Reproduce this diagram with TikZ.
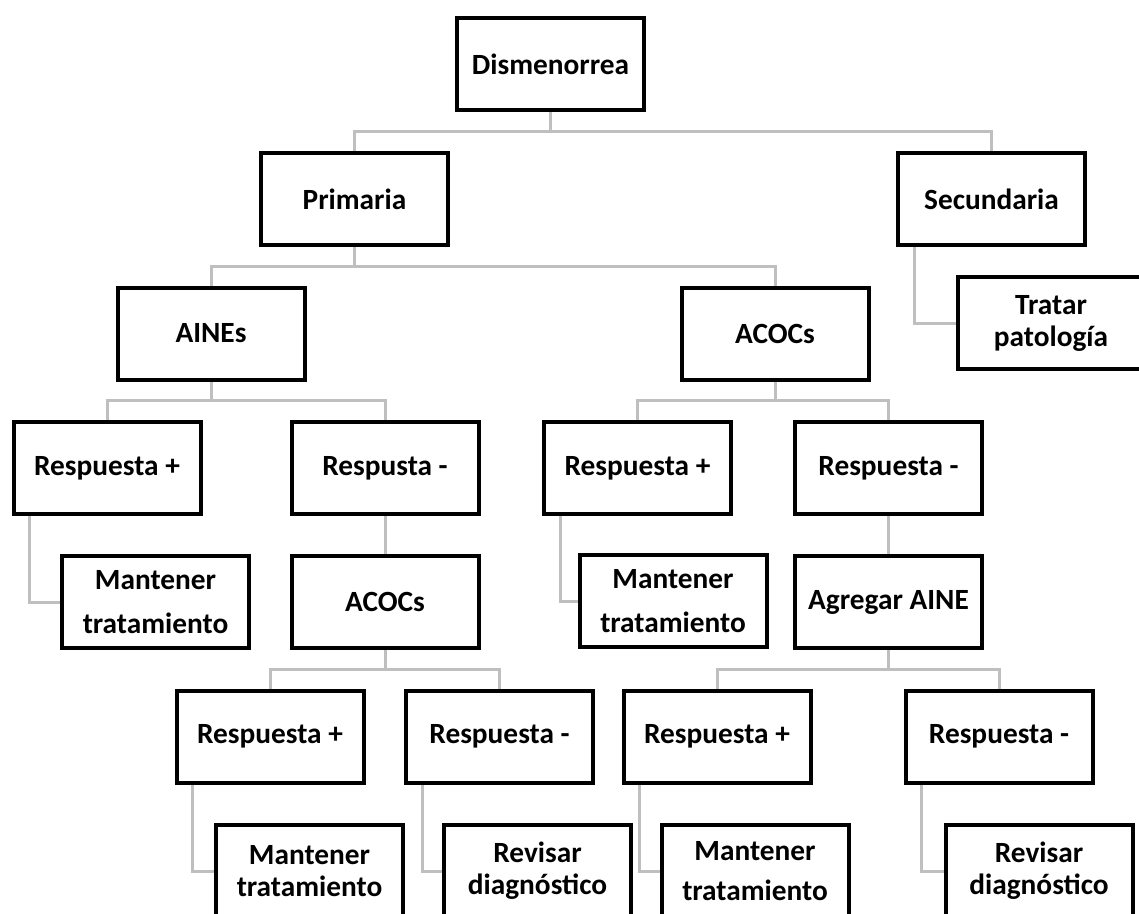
\documentclass[tikz,border=0pt]{standalone}
\usepackage{fontspec}
\setmainfont{Carlito}
\usetikzlibrary{backgrounds}
\definecolor{connGray}{RGB}{191,191,191}
\begin{document}
\begin{tikzpicture}[x=0.75pt,y=-0.75pt,
  box/.style={draw=black,line width=3pt,fill=white,minimum width=140.25pt,minimum height=69pt,
    inner sep=2pt,align=center,font=\bfseries\fontsize{22}{25}\selectfont},
  wide/.style={font=\bfseries\fontsize{22}{33}\selectfont},
  mid/.style={font=\bfseries\fontsize{22}{30}\selectfont},
  tight/.style={font=\bfseries\fontsize{22}{24}\selectfont},
  conn/.style={draw=connGray,line width=2.25pt,line join=miter}]
\useasboundingbox (0,0) rectangle (1139,914);

\node[box] (dis) at (550.5,64) {Dismenorrea};
\node[box] (prim) at (354.5,199) {Primaria};
\node[box] (sec) at (991.5,199) {Secundaria};
\node[box,tight] (trat) at (1051,323) {Tratar\\patología};
\node[box] (aines) at (211,333.5) {AINEs};
\node[box] (acocs) at (775,333.5) {ACOCs};
\node[box] (rp1) at (107,468) {Respuesta +};
\node[box] (rn1) at (385,468) {Respusta -};
\node[box,wide] (mt1) at (155.5,602) {Mantener\\tratamiento};
\node[box] (acocs2) at (385,602) {ACOCs};
\node[box] (rp2) at (637.5,468) {Respuesta +};
\node[box] (rn2) at (888.5,468) {Respuesta -};
\node[box,wide] (mt2) at (673,601) {Mantener\\tratamiento};
\node[box] (agr) at (888.5,602) {Agregar AINE};
\node[box] (rp3) at (270,736.5) {Respuesta +};
\node[box] (rn3) at (499.5,736.5) {Respuesta -};
\node[box] (rp4) at (717,736.5) {Respuesta +};
\node[box] (rn4) at (999,736.5) {Respuesta -};
\node[box,tight] (mt3) at (309.5,871) {Mantener\\tratamiento};
\node[box,tight] (rv1) at (537.5,871) {Revisar\\diagnóstico};
\node[box,mid] (mt4) at (755,871) {Mantener\\tratamiento};
\node[box,tight] (rv2) at (1039,871) {Revisar\\diagnóstico};

\coordinate (l1) at (0,131.5);
\coordinate (l2) at (0,266.5);
\coordinate (l3) at (0,400.5);
\coordinate (l5) at (0,669.5);

\begin{scope}[on background layer]
  % tree branches
  \draw[conn] (dis.south) -- (dis.south |- l1);
  \draw[conn] (prim.north) |- (l1 -| sec.north) -- (sec.north);
  \draw[conn] (prim.south) -- (prim.south |- l2);
  \draw[conn] (aines.north) |- (l2 -| acocs.north) -- (acocs.north);
  \draw[conn] (aines.south) -- (aines.south |- l3);
  \draw[conn] (rp1.north) |- (l3 -| rn1.north) -- (rn1.north);
  \draw[conn] (acocs.south) -- (acocs.south |- l3);
  \draw[conn] (rp2.north) |- (l3 -| rn2.north) -- (rn2.north);
  \draw[conn] (rn1.south) -- (acocs2.north);
  \draw[conn] (rn2.south) -- (agr.north);
  \draw[conn] (acocs2.south) -- (acocs2.south |- l5);
  \draw[conn] (rp3.north) |- (l5 -| rn3.north) -- (rn3.north);
  \draw[conn] (agr.south) -- (agr.south |- l5);
  \draw[conn] (rp4.north) |- (l5 -| rn4.north) -- (rn4.north);
  % side branches
  \draw[conn] ([xshift=13.5pt]sec.south west) |- (trat.west);
  \draw[conn] ([xshift=13.5pt]rp1.south west) |- (mt1.west);
  \draw[conn] ([xshift=13.5pt]rp2.south west) |- (mt2.west);
  \draw[conn] ([xshift=13.5pt]rp3.south west) |- (mt3.west);
  \draw[conn] ([xshift=13.5pt]rn3.south west) |- (rv1.west);
  \draw[conn] ([xshift=13.5pt]rp4.south west) |- (mt4.west);
  \draw[conn] ([xshift=13.5pt]rn4.south west) |- (rv2.west);
\end{scope}
\end{tikzpicture}
\end{document}
